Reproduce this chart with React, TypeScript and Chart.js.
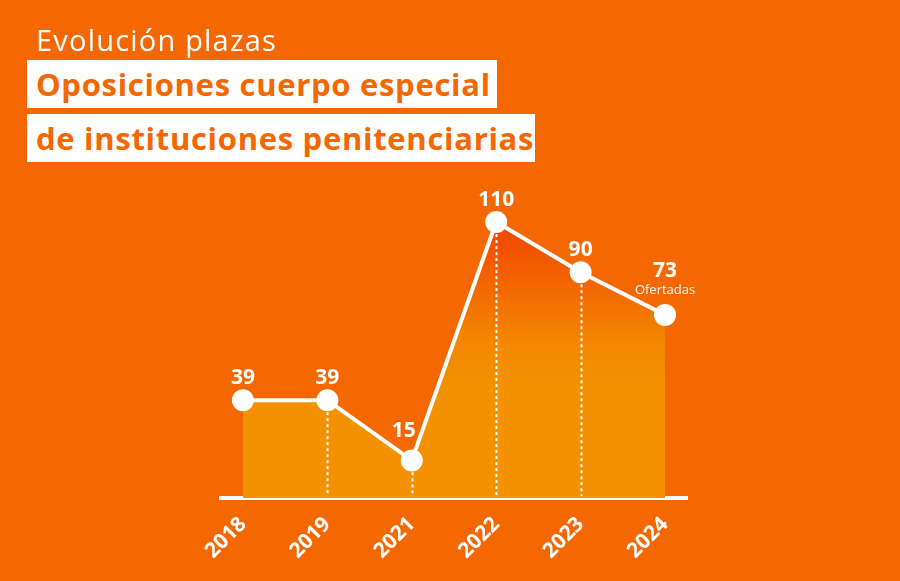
import React, { useEffect, useRef } from "react";
import { Chart, registerables } from "chart.js";

Chart.register(...registerables);

const categories = ["2018", "2019", "2021", "2022", "2023", "2024"];
const plazas = [39, 39, 15, 110, 90, 73];
const lastNote = "Ofertadas";

const BG = "#F56700";

const dropLinesPlugin = {
  id: "dropLines",
  afterDatasetsDraw(chart: any) {
    const { ctx, scales } = chart;
    const x = scales.x;
    const y = scales.y;
    ctx.save();
    ctx.strokeStyle = "#ffffff";
    ctx.lineWidth = 2;
    ctx.setLineDash([3, 3]);
    plazas.forEach((v, i) => {
      if (i === 0 || i === plazas.length - 1) return;
      const px = Math.round(x.getPixelForValue(i)) + 0.5;
      ctx.beginPath();
      ctx.moveTo(px, y.getPixelForValue(v) + 12);
      ctx.lineTo(px, y.getPixelForValue(0) - 2);
      ctx.stroke();
    });
    ctx.restore();
  },
};

const labelsPlugin = {
  id: "valueLabels",
  afterDatasetsDraw(chart: any) {
    const { ctx, scales } = chart;
    const x = scales.x;
    const y = scales.y;
    ctx.save();
    ctx.fillStyle = "#ffffff";
    ctx.textAlign = "center";
    ctx.textBaseline = "alphabetic";
    plazas.forEach((v, i) => {
      let px = x.getPixelForValue(i);
      let py = y.getPixelForValue(v);
      ctx.font = "bold 21px 'Open Sans'";
      if (i === 2) {
        px -= 8;
        ctx.fillText(String(v), px, py - 23);
      } else if (i === plazas.length - 1) {
        ctx.fillText(String(v), px, py - 38);
        ctx.font = "13px 'Open Sans'";
        ctx.fillText(lastNote, px, py - 21);
      } else {
        ctx.fillText(String(v), px, py - 16);
      }
    });
    ctx.restore();
  },
};

export default function App() {
  const ref = useRef<HTMLCanvasElement>(null);

  useEffect(() => {
    document.body.style.margin = "0";
    const canvas = ref.current!;
    const chart = new Chart(canvas, {
      type: "line",
      data: {
        datasets: [
          {
            data: plazas.map((v, i) => ({ x: i, y: v })),
            borderColor: "#ffffff",
            borderWidth: 4,
            pointRadius: 11,
            pointHoverRadius: 11,
            pointBackgroundColor: "#ffffff",
            pointBorderWidth: 0,
            tension: 0,
            fill: "origin",
            backgroundColor: (c: any) => {
              const area = c.chart.chartArea;
              if (!area) return "#F39100";
              const ys = c.chart.scales.y;
              const top = ys.getPixelForValue(110);
              const bottom = ys.getPixelForValue(0);
              const g = c.chart.ctx.createLinearGradient(0, top, 0, bottom);
              g.addColorStop(0, "#F24500");
              g.addColorStop(0.18, "#F35F00");
              g.addColorStop(0.45, "#F38900");
              g.addColorStop(0.6, "#F39100");
              g.addColorStop(1, "#F39100");
              return g;
            },
          },
        ],
      },
      options: {
        animation: false,
        responsive: false,
        events: [],
        layout: { padding: { left: 221, right: 213, top: 197, bottom: 0 } },
        plugins: { legend: { display: false }, tooltip: { enabled: false } },
        scales: {
          x: {
            type: "linear",
            min: -0.26,
            max: 5.26,
            afterBuildTicks: (s: any) => {
              s.ticks = categories.map((_, i) => ({ value: i }));
            },
            afterFit: (s: any) => {
              s.height = 83;
            },
            grid: { display: false },
            border: { display: true, color: "#ffffff", width: 4 },
            ticks: {
              color: "#ffffff",
              font: { family: "'Open Sans'", size: 21, weight: "bold" },
              minRotation: 45,
              maxRotation: 45,
              autoSkip: false,
              padding: 6,
              callback: (v: any) => categories[v] ?? "",
            },
          },
          y: {
            display: false,
            min: 0,
            max: 120,
          },
        },
      },
      plugins: [dropLinesPlugin, labelsPlugin],
    });
    return () => chart.destroy();
  }, []);

  const boxText: React.CSSProperties = {
    position: "absolute",
    left: 27,
    background: "#ffffff",
    color: BG,
    fontFamily: "'Open Sans'",
    fontWeight: 700,
    fontSize: 31,
    lineHeight: "48px",
    height: 48,
    paddingLeft: 9,
    whiteSpace: "nowrap",
    letterSpacing: "0.7px",
    boxSizing: "border-box",
  };

  return (
    <div style={{ position: "fixed", left: 0, top: 0, width: 900, height: 581, background: BG, overflow: "hidden" }}>
      <canvas ref={ref} width={900} height={581} style={{ position: "absolute", left: 0, top: 0 }} />
      <div
        style={{
          position: "absolute",
          left: 36,
          top: 22,
          color: "#ffffff",
          fontFamily: "'Open Sans'",
          fontSize: 29,
          lineHeight: "36px",
          whiteSpace: "nowrap",
          letterSpacing: "1.2px",
        }}
      >
        Evolución plazas
      </div>
      <div style={{ ...boxText, top: 60, width: 470 }}>Oposiciones cuerpo especial</div>
      <div style={{ ...boxText, top: 114, width: 508 }}>de instituciones penitenciarias</div>
    </div>
  );
}
